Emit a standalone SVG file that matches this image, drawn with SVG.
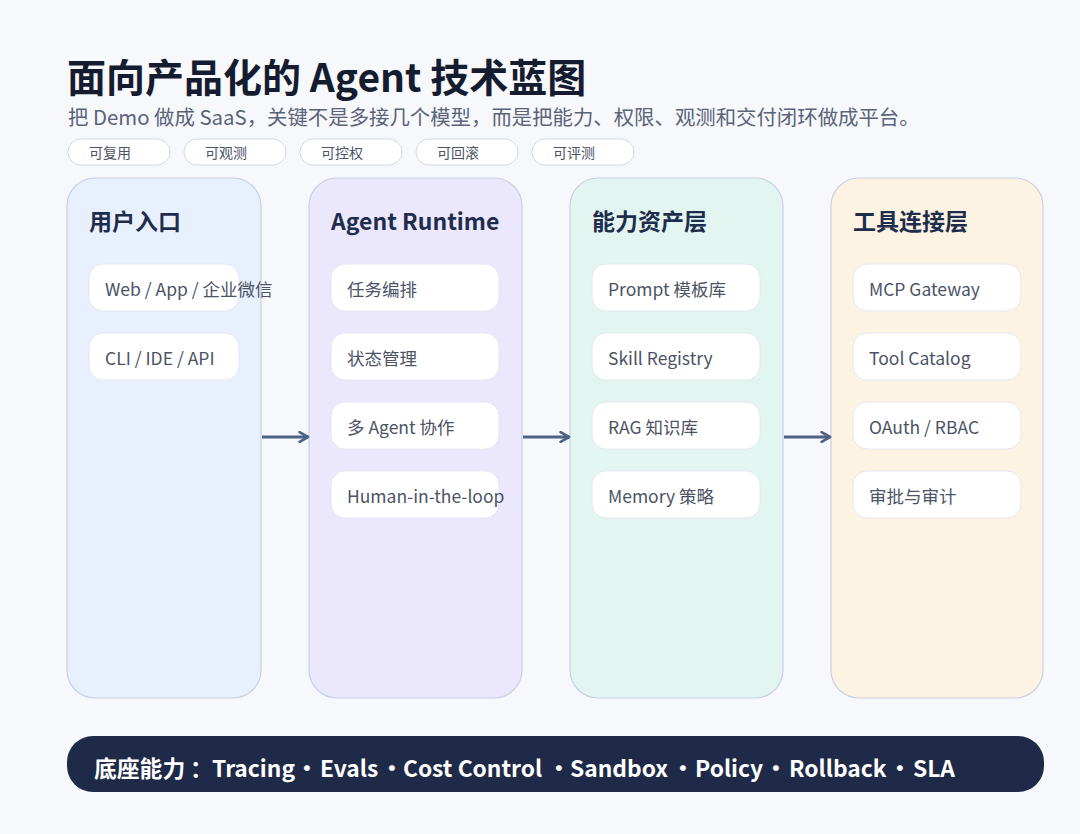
<svg xmlns="http://www.w3.org/2000/svg" width="1080" height="834" viewBox="0 0 1080 834">
<style>
text{font-family:"Noto Sans CJK SC","Noto Sans",sans-serif}
.title{font-size:39px;font-weight:700;fill:#161c2f}
.sub{font-size:20.4px;fill:#5a6378}
.pill{fill:#ffffff;stroke:#d3d9e6;stroke-width:1}
.pt{font-size:14px;fill:#4b5365}
.col{stroke:#c8d0e4;stroke-width:1.2}
.h{font-size:23px;font-weight:700;fill:#1f2d4d}
.item{fill:#ffffff;stroke:#e4e8f1;stroke-width:1}
.it{font-size:17.5px;fill:#4b5365}
.arr{stroke:#4f6184;stroke-width:3;fill:none}
.bar{fill:#1e2a47}
.bt{font-size:22.8px;font-weight:700;fill:#ffffff}
.dot{text-anchor:middle}
</style>
<defs>
<marker id="ah" viewBox="0 0 10 10" refX="8" refY="5" markerWidth="4" markerHeight="4" orient="auto" markerUnits="strokeWidth">
<path d="M1,1 L8,5 L1,9" fill="none" stroke="#4f6184" stroke-width="2.2" stroke-linecap="round" stroke-linejoin="round"/>
</marker>
</defs>
<rect width="1080" height="834" fill="#f6f8fc"/>
<g id="header">
<text class="title" x="67" y="92">面向产品化的 Agent 技术蓝图</text>
<text class="sub" x="68" y="125">把 Demo 做成 SaaS，关键不是多接几个模型，而是把能力、权限、观测和交付闭环做成平台。</text>
</g>
<g id="pills">
<rect class="pill" x="68" y="139" width="102" height="26" rx="13"/><text class="pt" x="89" y="158">可复用</text>
<rect class="pill" x="184" y="139" width="102" height="26" rx="13"/><text class="pt" x="205" y="158">可观测</text>
<rect class="pill" x="300" y="139" width="102" height="26" rx="13"/><text class="pt" x="321" y="158">可控权</text>
<rect class="pill" x="416" y="139" width="102" height="26" rx="13"/><text class="pt" x="437" y="158">可回滚</text>
<rect class="pill" x="532" y="139" width="102" height="26" rx="13"/><text class="pt" x="553" y="158">可评测</text>
</g>
<g id="col-user">
<rect class="col" x="67" y="178" width="194" height="520" rx="28" fill="#e8effd"/>
<text class="h" x="89" y="230">用户入口</text>
<rect class="item" x="89" y="264" width="150" height="47" rx="14"/><text class="it" x="105" y="296">Web / App / 企业微信</text>
<rect class="item" x="89" y="333" width="150" height="47" rx="14"/><text class="it" x="105" y="365">CLI / IDE / API</text>
</g>
<g id="col-runtime">
<rect class="col" x="309" y="178" width="213" height="520" rx="28" fill="#ebe7fc"/>
<text class="h" x="331" y="230">Agent Runtime</text>
<rect class="item" x="331" y="264" width="168" height="47" rx="14"/><text class="it" x="347" y="296">任务编排</text>
<rect class="item" x="331" y="333" width="168" height="47" rx="14"/><text class="it" x="347" y="365">状态管理</text>
<rect class="item" x="331" y="402" width="168" height="47" rx="14"/><text class="it" x="347" y="434">多 Agent 协作</text>
<rect class="item" x="331" y="471" width="168" height="47" rx="14"/><text class="it" x="347" y="503">Human-in-the-loop</text>
</g>
<g id="col-assets">
<rect class="col" x="570" y="178" width="213" height="520" rx="28" fill="#e2f5f0"/>
<text class="h" x="592" y="230">能力资产层</text>
<rect class="item" x="592" y="264" width="168" height="47" rx="14"/><text class="it" x="608" y="296">Prompt 模板库</text>
<rect class="item" x="592" y="333" width="168" height="47" rx="14"/><text class="it" x="608" y="365">Skill Registry</text>
<rect class="item" x="592" y="402" width="168" height="47" rx="14"/><text class="it" x="608" y="434">RAG 知识库</text>
<rect class="item" x="592" y="471" width="168" height="47" rx="14"/><text class="it" x="608" y="503">Memory 策略</text>
</g>
<g id="col-tools">
<rect class="col" x="831" y="178" width="212" height="520" rx="28" fill="#fdf3e2"/>
<text class="h" x="853" y="230">工具连接层</text>
<rect class="item" x="853" y="264" width="168" height="47" rx="14"/><text class="it" x="869" y="296">MCP Gateway</text>
<rect class="item" x="853" y="333" width="168" height="47" rx="14"/><text class="it" x="869" y="365">Tool Catalog</text>
<rect class="item" x="853" y="402" width="168" height="47" rx="14"/><text class="it" x="869" y="434">OAuth / RBAC</text>
<rect class="item" x="853" y="471" width="168" height="47" rx="14"/><text class="it" x="869" y="503">审批与审计</text>
</g>
<g id="connectors">
<line class="arr" x1="262" y1="437" x2="308" y2="437" marker-end="url(#ah)"/>
<line class="arr" x1="523" y1="437" x2="569" y2="437" marker-end="url(#ah)"/>
<line class="arr" x1="784" y1="437" x2="830" y2="437" marker-end="url(#ah)"/>
</g>
<g id="base">
<rect class="bar" x="67" y="736" width="977" height="56" rx="26"/>
<text class="bt" y="777"><tspan x="94">底座能力</tspan><tspan x="190">：</tspan><tspan x="212">Tracing</tspan><tspan class="dot" x="307">·</tspan><tspan x="320">Evals</tspan><tspan class="dot" x="392">·</tspan><tspan x="403">Cost Control</tspan><tspan class="dot" x="559">·</tspan><tspan x="570">Sandbox</tspan><tspan class="dot" x="683">·</tspan><tspan x="695">Policy</tspan><tspan class="dot" x="776">·</tspan><tspan x="789">Rollback</tspan><tspan class="dot" x="900">·</tspan><tspan x="913">SLA</tspan></text>
</g>
</svg>
